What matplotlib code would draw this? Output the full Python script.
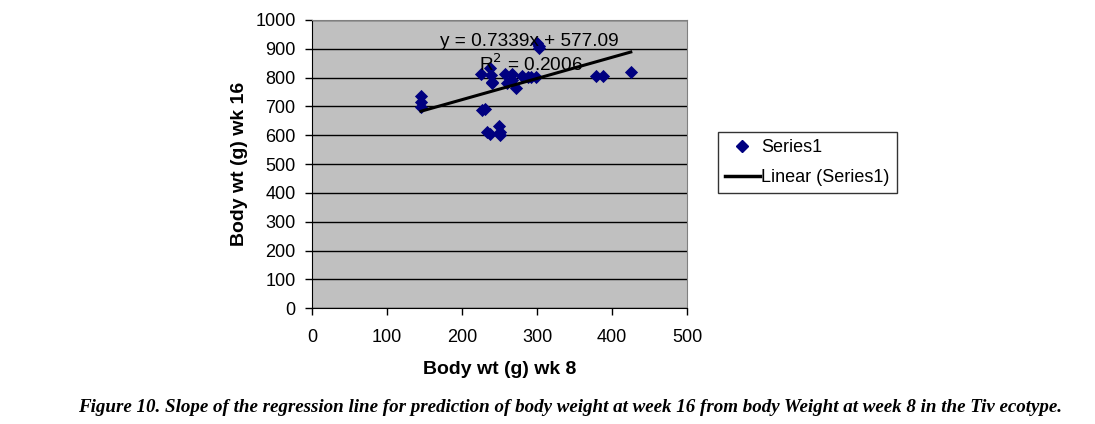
import matplotlib
matplotlib.use("Agg")
import matplotlib.pyplot as plt
from matplotlib.lines import Line2D

# ---- data ----
wk8 = [145, 145, 145, 225, 226, 230, 233, 237, 249, 250, 251,
       237, 239, 240, 240, 257, 260, 266, 267, 272,
       280, 288, 292, 299, 300, 302, 303, 379, 388, 425]
wk16 = [736, 717, 697, 812, 688, 692, 610, 605, 632, 612, 600,
        832, 809, 786, 780, 812, 780, 792, 812, 763,
        806, 803, 803, 803, 919, 902, 910, 807, 807, 821]
slope = 0.7339
intercept = 577.09
r2 = 0.2006
xticks = [0, 100, 200, 300, 400, 500]
yticks = list(range(0, 1001, 100))
legend_labels = ['Series1', 'Linear (Series1)']

plt.rcParams['font.family'] = ['Liberation Sans', 'DejaVu Sans']

fig = plt.figure(figsize=(10.95, 4.24), dpi=100)
ax = fig.add_axes([312.3/1095, 1-308.3/424, (687-312.3)/1095, (308.3-20)/424])
ax.set_facecolor('#C0C0C0')
ax.set_xlim(0, 500)
ax.set_ylim(0, 1000)
ax.set_xticks(xticks)
ax.set_yticks(yticks)
ax.yaxis.grid(True, color='black', linewidth=1)
ax.set_axisbelow(True)
ax.tick_params(direction='out', length=5, width=1, labelsize=13, colors='black')
ax.tick_params(axis='x', pad=10)
ax.tick_params(axis='y', pad=7)
for s in ['top', 'right']:
    ax.spines[s].set_color('#808080')
for s in ['left', 'bottom']:
    ax.spines[s].set_color('black')

ax.scatter(wk8, wk16, marker='D', s=45, color='#000080', zorder=3, linewidths=0)
xl = [min(wk8), max(wk8)]
yl = [slope * v + intercept for v in xl]
ax.plot(xl, yl, color='black', linewidth=2.2, zorder=4)

ax.text(289, 927, f"y = {slope}x + {intercept}", fontsize=13.7, ha='center', va='center', zorder=5)
ax.text(292, 845, f"R$^2$ = {r2}", fontsize=13.7, ha='center', va='center', zorder=5)

ax.set_xlabel('Body wt (g) wk 8', fontsize=14, fontweight='bold', labelpad=11)
ax.set_ylabel('Body wt (g) wk 16', fontsize=14, fontweight='bold', labelpad=5)

handles = [Line2D([], [], marker='D', linestyle='none', color='#000080', markersize=6),
           Line2D([], [], color='black', linewidth=2.5)]
leg = fig.legend(handles, legend_labels, loc='upper left',
                 bbox_to_anchor=(718/1095, 1-132/424), borderaxespad=0, fontsize=13,
                 frameon=True, fancybox=False, edgecolor='black', handlelength=1.9,
                 borderpad=0.4, labelspacing=0.7, handletextpad=0.1)
leg.get_frame().set_linewidth(1)

fig.text(570/1095, 1-408/424,
         'Figure 10. Slope of the regression line for prediction of body weight at week 16 from body Weight at week 8 in the Tiv ecotype.',
         ha='center', va='center', fontsize=13.7, fontstyle='italic', fontweight='bold',
         family=['Liberation Serif', 'DejaVu Serif'])

fig.savefig('out.png', dpi=100)
